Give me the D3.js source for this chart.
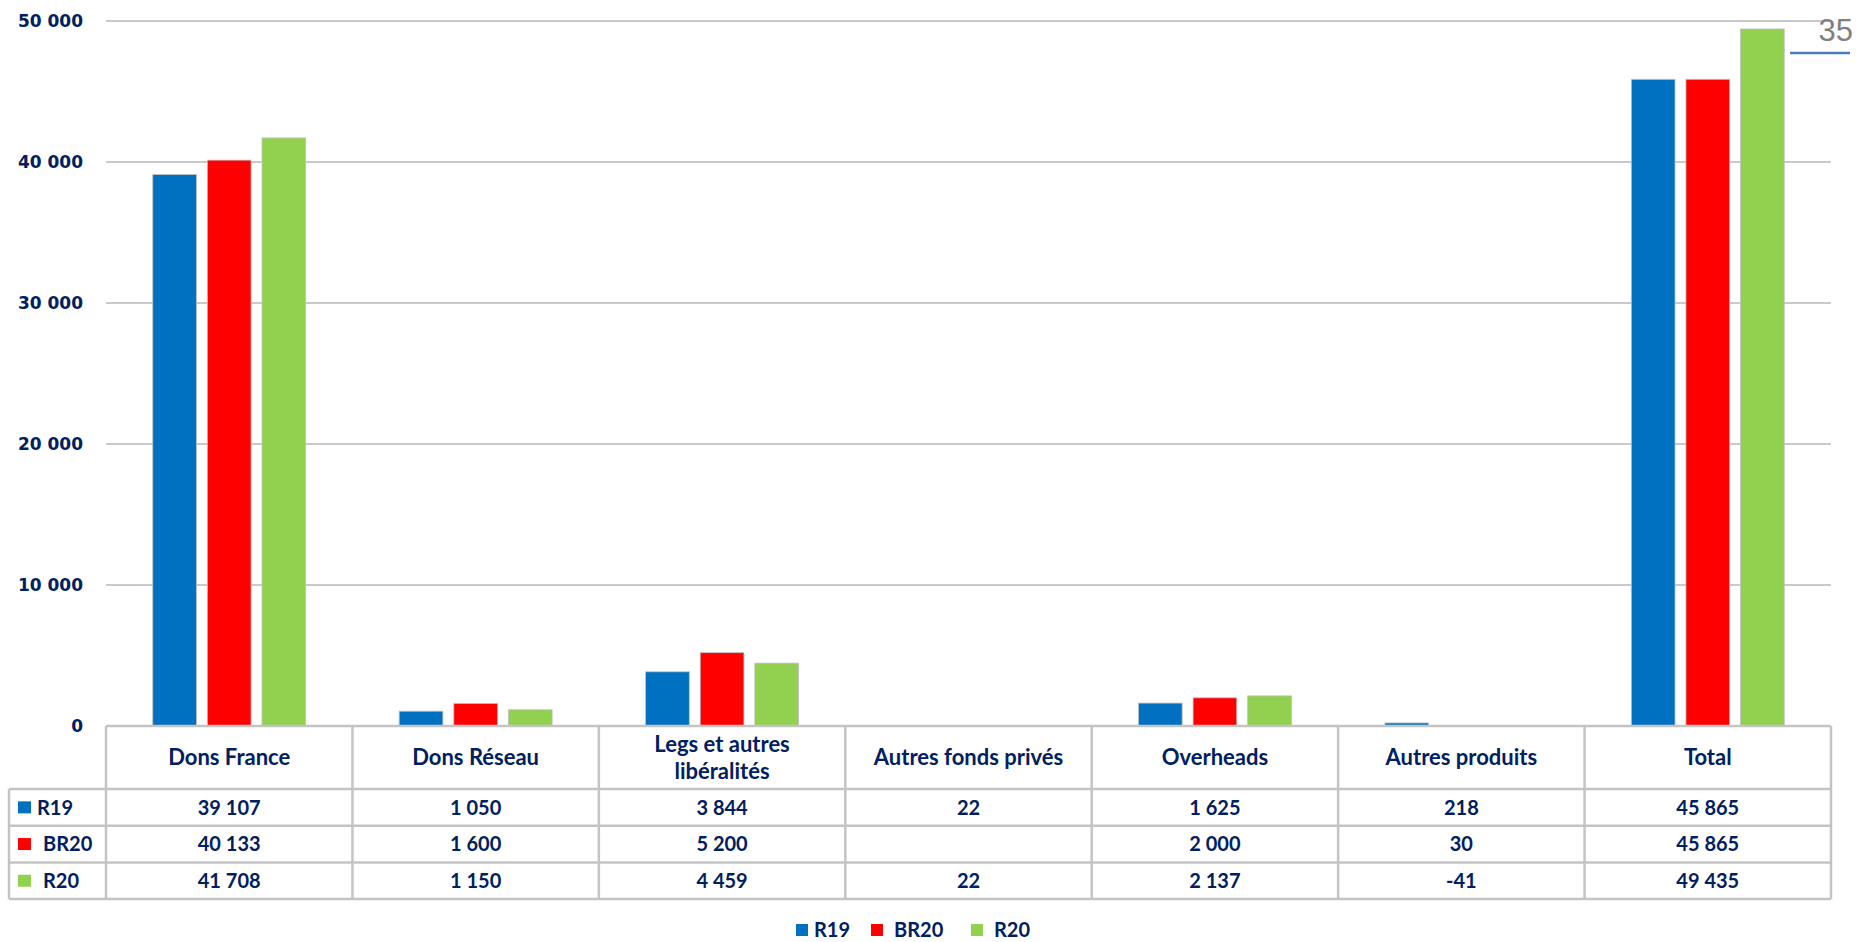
<!DOCTYPE html>
<html>
<head>
<meta charset="utf-8">
<script src="https://cdn.jsdelivr.net/npm/d3@7"></script>
<style>
  body { margin: 0; background: #fff; }
  svg { display: block; }
</style>
</head>
<body>
<div id="chart"></div>
<script>
// chart data
const categories = ['Dons France', 'Dons Réseau', 'Legs et autres libéralités', 'Autres fonds privés', 'Overheads', 'Autres produits', 'Total'];
const seriesNames = ['R19', 'BR20', 'R20'];
const r19 = [39107, 1050, 3844, 22, 1625, 218, 45865];
const br20 = [40133, 1600, 5200, null, 2000, 30, 45865];
const r20 = [41708, 1150, 4459, 22, 2137, -41, 49435];
const yTicks = [0, 10000, 20000, 30000, 40000, 50000];
const pageNumber = '35';

const seriesValues = [r19, br20, r20];
const colors = ['#0070C0', '#FF0000', '#92D050'];

// dimensions
const width = 1856, height = 942;
const plotLeft = 106, plotRight = 1831, plotTop = 21, zeroY = 726;
const navy = '#002060';
const gridColor = '#c9c9c9';

const fr = d3.formatLocale({ decimal: ',', thousands: ' ', grouping: [3], currency: ['', ' €'], minus: '-' });
const fmt = fr.format(',d');

const svg = d3.select('#chart').append('svg')
  .attr('width', width)
  .attr('height', height);

const x0 = d3.scaleBand().domain(categories).range([plotLeft, plotRight]).padding(0);
const x1 = d3.scaleBand().domain(seriesNames).range([0, x0.bandwidth()])
  .paddingInner(0.2).paddingOuter(0.856);
const y = d3.scaleLinear().domain([0, 50000]).range([zeroY, plotTop]);

// gridlines
svg.append('g').selectAll('line')
  .data(yTicks.filter(d => d > 0))
  .enter().append('line')
  .attr('x1', plotLeft).attr('x2', plotRight)
  .attr('y1', d => y(d)).attr('y2', d => y(d))
  .attr('stroke', gridColor).attr('stroke-width', 2);

// y axis labels
svg.append('g').selectAll('text')
  .data(yTicks)
  .enter().append('text')
  .attr('x', 83)
  .attr('y', d => y(d))
  .attr('dy', '0.36em')
  .attr('text-anchor', 'end')
  .attr('font-family', 'DejaVu Sans')
  .attr('font-weight', 'bold')
  .attr('font-size', 17)
  .attr('fill', navy)
  .text(d => fmt(d));

// bars
const groups = svg.append('g').selectAll('g')
  .data(categories)
  .enter().append('g')
  .attr('transform', d => 'translate(' + x0(d) + ',0)');

groups.selectAll('rect')
  .data((c, i) => seriesNames
    .map((s, j) => ({ s: s, v: seriesValues[j][i], color: colors[j] }))
    .filter(d => d.v !== null))
  .enter().append('rect')
  .attr('x', d => x1(d.s))
  .attr('width', x1.bandwidth())
  .attr('y', d => y(Math.max(0, d.v)))
  .attr('height', d => Math.abs(y(d.v) - y(0)))
  .attr('fill', d => d.color)
  .attr('stroke', '#c0c0c0')
  .attr('stroke-width', 0.8);

// data table
const headerTop = zeroY, headerBottom = 789;
const rowH = 36.7;
const tableBottom = headerBottom + rowH * 3;
const keyLeft = 9;
const lineColor = '#c4c4c4';
const table = svg.append('g');

// horizontal lines
table.append('line').attr('x1', plotLeft).attr('x2', plotRight)
  .attr('y1', headerTop).attr('y2', headerTop)
  .attr('stroke', lineColor).attr('stroke-width', 2.5);
d3.range(4).forEach(k => {
  table.append('line')
    .attr('x1', keyLeft).attr('x2', plotRight)
    .attr('y1', headerBottom + k * rowH).attr('y2', headerBottom + k * rowH)
    .attr('stroke', lineColor).attr('stroke-width', 2.5);
});
// vertical lines
table.selectAll('line.col')
  .data(categories.map(c => x0(c)).concat([plotRight]))
  .enter().append('line').attr('class', 'col')
  .attr('x1', d => d).attr('x2', d => d)
  .attr('y1', headerTop).attr('y2', tableBottom)
  .attr('stroke', lineColor).attr('stroke-width', 2.5);
table.append('line')
  .attr('x1', keyLeft).attr('x2', keyLeft)
  .attr('y1', headerBottom).attr('y2', tableBottom)
  .attr('stroke', lineColor).attr('stroke-width', 2.5);

// header labels
const headerLines = {
  'Legs et autres libéralités': ['Legs et autres', 'libéralités']
};
categories.forEach(c => {
  const lines = headerLines[c] || [c];
  const cy = (headerTop + headerBottom) / 2;
  lines.forEach((ln, k) => {
    table.append('text')
      .attr('x', x0(c) + x0.bandwidth() / 2)
      .attr('y', cy + (k - (lines.length - 1) / 2) * 27)
      .attr('dy', '0.36em')
      .attr('text-anchor', 'middle')
      .attr('font-family', 'Lato')
      .attr('font-weight', 'bold')
      .attr('font-size', 22)
      .attr('fill', navy)
      .text(ln);
  });
});

// data rows
seriesNames.forEach((s, j) => {
  const cy = headerBottom + rowH * (j + 0.5);
  table.append('rect')
    .attr('x', 18).attr('y', cy - 6)
    .attr('width', 13).attr('height', 12)
    .attr('fill', colors[j]);
  table.append('text')
    .attr('x', j === 0 ? 37 : 43).attr('y', cy)
    .attr('dy', '0.36em')
    .attr('font-family', 'Lato').attr('font-weight', 'bold')
    .attr('font-size', 20).attr('fill', navy)
    .text(s);
  categories.forEach((c, i) => {
    const v = seriesValues[j][i];
    if (v === null) return;
    table.append('text')
      .attr('x', x0(c) + x0.bandwidth() / 2)
      .attr('y', cy)
      .attr('dy', '0.36em')
      .attr('text-anchor', 'middle')
      .attr('font-family', 'Lato').attr('font-weight', 'bold')
      .attr('font-size', 20).attr('fill', navy)
      .text(fmt(v));
  });
});

// legend
const legendX = [796, 871, 971];
const legendY = 930;
const legend = svg.append('g').selectAll('g')
  .data(seriesNames)
  .enter().append('g')
  .attr('transform', (d, i) => 'translate(' + legendX[i] + ',' + legendY + ')');
legend.append('rect')
  .attr('x', 0).attr('y', -6)
  .attr('width', 12).attr('height', 12)
  .attr('fill', (d, i) => colors[i]);
legend.append('text')
  .attr('x', (d, i) => i === 0 ? 18 : 23)
  .attr('dy', '0.36em')
  .attr('font-family', 'Lato').attr('font-weight', 'bold')
  .attr('font-size', 20).attr('fill', navy)
  .text(d => d);

// page number
svg.append('text')
  .attr('x', 1853).attr('y', 41)
  .attr('text-anchor', 'end')
  .attr('font-family', 'Liberation Sans')
  .attr('font-size', 31)
  .attr('fill', '#7f7f7f')
  .text(pageNumber);
svg.append('line')
  .attr('x1', 1790).attr('x2', 1850)
  .attr('y1', 53).attr('y2', 53)
  .attr('stroke', '#4a7ebb').attr('stroke-width', 2.5);
</script>
</body>
</html>
